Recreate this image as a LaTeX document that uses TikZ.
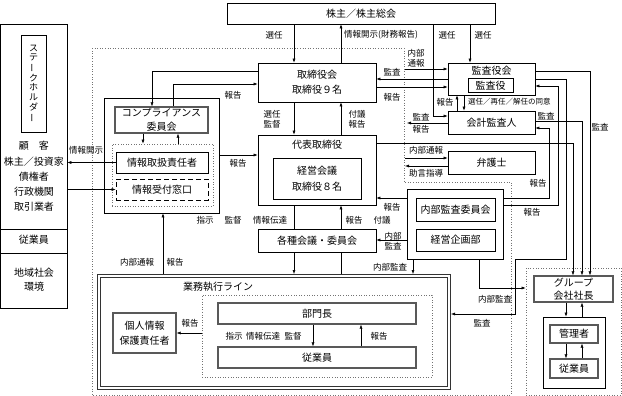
\documentclass[tikz,border=0pt]{standalone}
\usepackage{fontspec}
\setmainfont{Noto Sans CJK JP}
\usepackage{graphicx}
\usetikzlibrary{arrows.meta, positioning}
\newcommand{\vchoon}{\rotatebox[origin=c]{90}{ー}}

\begin{document}
\begin{tikzpicture}[x=1pt, y=-1pt,
  box/.style={draw, fill=white, line width=0.6pt, align=center, inner sep=1pt,
              font=\fontsize{10}{14}\selectfont},
  gbox/.style={box, draw=black!65, line width=1.1pt},
  dotbox/.style={draw=black!55, dotted, line width=0.6pt},
  txt/.style={align=center, inner sep=0pt, font=\fontsize{10}{14}\selectfont},
  arr/.style={-{Latex[length=4pt, width=3pt]}, line width=0.5pt},
  ln/.style={line width=0.5pt},
  lbl/.style={font=\fontsize{8.5}{10}\selectfont, inner sep=0pt, align=center},
  sml/.style={font=\fontsize{7.5}{9}\selectfont, inner sep=0pt, anchor=west}
]
\useasboundingbox (0,0) rectangle (622,396);

% Company boundary
\draw[dotbox] (92,48) -- (404,48) -- (404,182) -- (511,182) -- (511,395) -- (92,395) -- cycle;

% Shareholders
\node[box, minimum width=268, minimum height=21] (gm) at (361,13.5) {株主／株主総会};

% Stakeholders (left column)
\node[box, minimum width=66.5, minimum height=284] (stake) at (33.75,166) {};
\node[box, minimum width=25, minimum height=97, inner sep=0pt,
      font=\fontsize{9}{9.6}\selectfont] (shname) at (33.5,83.5)
      {ス\\テ\\\vchoon\\ク\\ホ\\ル\\ダ\\\vchoon};
\node[txt, font=\fontsize{10}{15.2}\selectfont] (cust) at (34,176.5)
      {顧　客\\株主／投資家\\債権者\\行政機関\\取引業者};
\draw[ln] (stake.west |- 0,229) -- (stake.east |- 0,229);
\draw[ln] (stake.west |- 0,253) -- (stake.east |- 0,253);
\node[txt] (emp) at (34,240) {従業員};
\node[txt] (comm) at (34,280) {地域社会\\環境};

% Board and auditors
\node[box, minimum width=118, minimum height=39, font=\fontsize{10}{15}\selectfont] (board) at (317,82.5) {取締役会\\取締役９名};
\node[box, minimum width=87, minimum height=32] (audb) at (491.5,79) {};
\node[txt] (audbt) at (491.5,70.5) {監査役会};
\node[box, minimum width=45, minimum height=14, inner sep=0pt] (audr) at (490.5,85.5) {監査役};
\node[box, minimum width=87, minimum height=23] (acct) at (491.5,122.5) {会計監査人};
\node[box, minimum width=87, minimum height=23] (lawyer) at (491.5,162.5) {弁護士};

% Representative director
\node[box, minimum width=118, minimum height=70] (ceo) at (317,170) {};
\node[txt] (ceot) at (317,145) {代表取締役};
\node[box, minimum width=88, minimum height=41, font=\fontsize{10}{16}\selectfont] (mgmt) at (317,178.5) {経営会議\\取締役８名};
\node[box, minimum width=118, minimum height=23] (cmte) at (317,240.5) {各種会議・委員会};

% Internal audit
\node[box, minimum width=96, minimum height=70] (iabox) at (455,224) {};
\node[box, minimum width=79, minimum height=23] (iac) at (455.5,209.5) {内部監査委員会};
\node[box, minimum width=79, minimum height=22] (plan) at (455.5,240) {経営企画部};

% Compliance
\node[box, minimum width=115, minimum height=115] (cbox) at (161.5,155.5) {};
\node[gbox, minimum width=93, minimum height=26] (cc) at (161.5,120) {コンプライアンス\\委員会};
\node[dotbox, minimum width=101, minimum height=62] (cdot) at (162.5,175) {};
\node[box, minimum width=92, minimum height=21] (info) at (162,162.5) {情報取扱責任者};
\node[box, dash pattern=on 5pt off 3pt, minimum width=92, minimum height=21] (desk) at (162,189.5) {情報受付窓口};

% Business execution line
\node[draw=black!80, double, double distance=2.4pt, line width=0.8pt, outer sep=2pt,
      minimum width=350, minimum height=112] (bline) at (274,332) {};
\node[txt] (blinet) at (218,287) {業務執行ライン};
\node[dotbox, minimum width=230, minimum height=82] (ldot) at (317,336) {};
\node[gbox, minimum width=198, minimum height=21] (head) at (317,313.5) {部門長};
\node[gbox, minimum width=198, minimum height=21] (staff) at (317,357.5) {従業員};
\node[gbox, minimum width=63, minimum height=40, font=\fontsize{10}{15}\selectfont] (priv) at (144.5,333) {個人情報\\保護責任者};

% Group companies
\node[dotbox, minimum width=95, minimum height=127] (grp) at (573.5,331.5) {};
\node[gbox, minimum width=79, minimum height=26, font=\fontsize{10}{13}\selectfont] (gceo) at (573.5,289) {グループ\\会社社長};
\node[box, minimum width=62, minimum height=71] (gsub) at (574,352.5) {};
\node[gbox, minimum width=48, minimum height=18] (gmgr) at (574,334) {管理者};
\node[gbox, minimum width=48, minimum height=19] (gstaff) at (574,368.5) {従業員};

% Free ends on the company boundary
\coordinate (wb1) at (405,69);
\coordinate (wb2) at (407,123);
\coordinate (wb3) at (405,158);
\coordinate (wb4) at (405,166);

% Shareholders <-> board, auditors
\draw[arr] (gm.south -| 294,0) -- (board.north -| 294,0);
\draw[arr] (board.north -| 341,0) -- (gm.south -| 341,0);
\draw[arr] (gm.south -| 433,0) |- (acct.west |- 0,116);
\draw[arr] (gm.south -| 470,0) -- (audb.north -| 470,0);

% Board <-> auditors
\draw[arr] (audb.west |- 0,79) -- (board.east |- 0,79);
\draw[arr] (board.east |- 0,87) -- (audb.west |- 0,87);
\draw[arr] (wb1) -- (audb.west |- wb1);
\draw[arr] (acct.north -| 457,0) -- (audb.south -| 457,0);
\draw[arr] (audb.south -| 464,0) -- (acct.north -| 464,0);
\draw[arr] (acct.west |- wb2) -- (wb2);
\draw[arr] (wb3) -- (lawyer.west |- wb3);
\draw[arr] (lawyer.west |- wb4) -- (wb4);

% Right-hand lanes
\draw[arr] (audb.east |- 0,71) -| (gceo.north -| 590,0);
\draw[arr] (acct.east |- 0,121) -| (gceo.north -| 582,0);
\draw[arr] (ceo.east |- 0,143) -| (gceo.north -| 573,0);
\draw[arr] (audb.east |- 0,79) -- (566,79) -- (566,259) -- (515,259) |- (bline.east |- 0,314);
\draw[arr] (iabox.east |- 0,198) -| (549,128) -- (acct.east |- 0,128);
\draw[arr] (iabox.east |- 0,205) -| (558,86) -- (audb.east |- 0,86);

% Internal audit
\draw[arr] (iabox.west |- 0,198) -- (ceo.east |- 0,198);
\draw[arr] (iabox.west |- 0,240) -- (cmte.east |- 0,240);
\draw[arr] (iabox.south -| 413,0) -- (bline.north -| 413,0);
\draw[arr] (iabox.south -| 479,0) |- (grp.west |- 0,288);

% Compliance
\draw[arr] (board.west |- 0,71) -| (cc.north -| 152,0);
\draw[arr] (cc.north -| 173,0) |- (board.west |- 0,84);
\draw[arr] (cbox.east |- 0,155) -- (ceo.west |- 0,155);
\draw[arr] (cc.south -| 143,0) -- (cdot.north -| 143,0);
\draw[arr] (cdot.north -| 178,0) -- (cc.south -| 178,0);
\draw[arr] (info.west) -- (stake.east |- info.west);
\draw[arr] (stake.east |- desk.west) -- (desk.west);
\draw[arr] (bline.north -| 163,0) -- (cbox.south -| 163,0);

% Board <-> CEO <-> committees <-> line
\draw[arr] (board.south -| 294,0) -- (ceo.north -| 294,0);
\draw[arr] (ceo.north -| 341,0) -- (board.south -| 341,0);
\draw[ln] (ceo.south -| 294,0) -- (cmte.north -| 294,0);
\draw[arr] (cmte.south -| 294,0) -- (bline.north -| 294,0);
\draw[ln] (bline.north -| 341,0) -- (cmte.south -| 341,0);
\draw[arr] (cmte.north -| 341,0) -- (ceo.south -| 341,0);

% Inside the line and the group
\draw[arr] (ldot.west |- priv.east) -- (priv.east);
\draw[arr] (head.south -| 313,0) -- (staff.north -| 313,0);
\draw[arr] (staff.north -| 361,0) -- (head.south -| 361,0);
\draw[arr] (gceo.south -| 566,0) -- (gsub.north -| 566,0);
\draw[arr] (gsub.north -| 582,0) -- (gceo.south -| 582,0);
\draw[arr] (gmgr.south -| 566,0) -- (gstaff.north -| 566,0);
\draw[arr] (gstaff.north -| 582,0) -- (gmgr.south -| 582,0);

% Labels
\node[lbl] (l1) at (274,35) {選任};
\node[lbl, anchor=west] (l2) at (344,35) {情報開示(財務報告)};
\node[lbl] (l3) at (447,35) {選任};
\node[lbl] (l4) at (483,35) {選任};
\node[lbl] (l5) at (392,72) {監査};
\node[lbl] (l6) at (392,97) {報告};
\node[lbl] (l7) at (416,58) {内部\\通報};
\node[lbl] (l8) at (445,102) {報告};
\node[sml] (l9) at (468,102) {選任／再任／解任の同意};
\node[lbl] (l10) at (421,117) {監査};
\node[lbl] (l11) at (421,129) {報告};
\node[lbl] (l12) at (546,116) {監査};
\node[lbl] (l13) at (600,127) {監査};
\node[lbl] (l14) at (426,150) {内部通報};
\node[lbl] (l15) at (426,173) {助言指導};
\node[lbl] (l16) at (538,183) {報告};
\node[lbl] (l17) at (532,212) {報告};
\node[lbl] (l18) at (272,119) {選任\\監督};
\node[lbl] (l19) at (357,119) {付議\\報告};
\node[lbl] (l20) at (233,95) {報告};
\node[lbl] (l21) at (238,163) {報告};
\node[lbl] (l22) at (86,150) {情報開示};
\node[lbl] (l23) at (205,220) {指示};
\node[lbl] (l24) at (233,220) {監督};
\node[lbl] (l25) at (270,220) {情報伝達};
\node[lbl] (l26) at (354,220) {報告};
\node[lbl] (l27) at (382,220) {付議};
\node[lbl] (l28) at (392,207) {報告};
\node[lbl] (l29) at (393,241.5) {内部\\監査};
\node[lbl] (l30) at (390,267) {内部監査};
\node[lbl] (l31) at (137,262) {内部通報};
\node[lbl] (l32) at (175,262) {報告};
\node[lbl] (l33) at (495,299) {内部監査};
\node[lbl] (l34) at (482,323) {監査};
\node[lbl] (l35) at (190,323) {報告};
\node[lbl] (l36) at (234,336) {指示};
\node[lbl] (l37) at (263,336) {情報伝達};
\node[lbl] (l38) at (293,336) {監督};
\node[lbl] (l39) at (379,336) {報告};

\end{tikzpicture}
\end{document}
